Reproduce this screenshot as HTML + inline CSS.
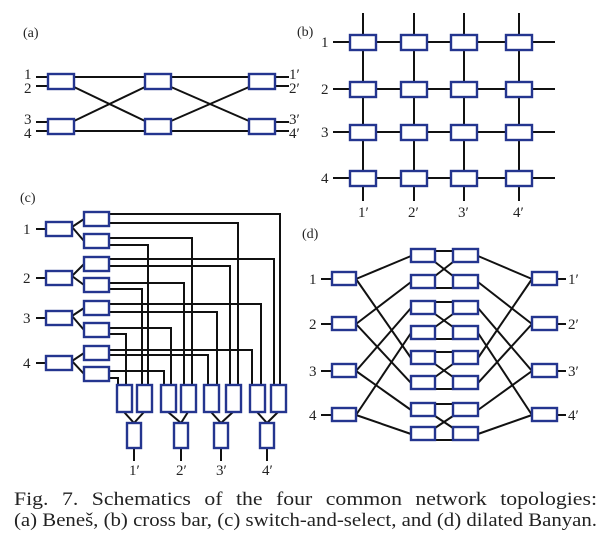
<!DOCTYPE html>
<html><head><meta charset="utf-8"><style>
html,body{margin:0;padding:0;background:#fff;}
svg{display:block;}
text{font-family:"Liberation Serif",serif;fill:#222;}
.b{fill:#fff;stroke:#24358f;stroke-width:2.4;}
.l{stroke:#111;stroke-width:2;fill:none;}
</style></head><body>
<svg width="616" height="541" viewBox="0 0 616 541" xmlns="http://www.w3.org/2000/svg">
<!-- (a) -->
<text x="23" y="37" font-size="14">(a)</text>
<g class="l">
<line x1="36" y1="77" x2="289" y2="77"/><line x1="36" y1="86" x2="48" y2="86"/><line x1="275" y1="86" x2="289" y2="86"/>
<line x1="36" y1="122" x2="48" y2="122"/><line x1="36" y1="131" x2="289" y2="131"/><line x1="275" y1="122" x2="289" y2="122"/>
<line x1="74" y1="87" x2="145" y2="121"/><line x1="74" y1="121" x2="145" y2="87"/>
<line x1="171" y1="87" x2="249" y2="121"/><line x1="171" y1="121" x2="249" y2="87"/>
</g>
<g class="b">
<rect x="48" y="74" width="26" height="15"/><rect x="145" y="74" width="26" height="15"/><rect x="249" y="74" width="26" height="15"/>
<rect x="48" y="119" width="26" height="15"/><rect x="145" y="119" width="26" height="15"/><rect x="249" y="119" width="26" height="15"/>
</g>
<g font-size="15">
<text x="24" y="79">1</text><text x="24" y="93">2</text><text x="24" y="124">3</text><text x="24" y="138">4</text>
<text x="289" y="79">1′</text><text x="289" y="93">2′</text><text x="289" y="124">3′</text><text x="289" y="138">4′</text>
</g>
<!-- (b) -->
<text x="297" y="36" font-size="14">(b)</text>
<g class="l">
<line x1="363" y1="13" x2="363" y2="201"/><line x1="414" y1="13" x2="414" y2="201"/><line x1="464" y1="13" x2="464" y2="201"/><line x1="519" y1="13" x2="519" y2="201"/>
<line x1="333" y1="42" x2="555" y2="42"/><line x1="333" y1="89" x2="555" y2="89"/><line x1="333" y1="132" x2="555" y2="132"/><line x1="333" y1="178" x2="555" y2="178"/>
</g>
<g class="b">
<rect x="350" y="35" width="26" height="15"/><rect x="401" y="35" width="26" height="15"/><rect x="451" y="35" width="26" height="15"/><rect x="506" y="35" width="26" height="15"/>
<rect x="350" y="82" width="26" height="15"/><rect x="401" y="82" width="26" height="15"/><rect x="451" y="82" width="26" height="15"/><rect x="506" y="82" width="26" height="15"/>
<rect x="350" y="125" width="26" height="15"/><rect x="401" y="125" width="26" height="15"/><rect x="451" y="125" width="26" height="15"/><rect x="506" y="125" width="26" height="15"/>
<rect x="350" y="171" width="26" height="15"/><rect x="401" y="171" width="26" height="15"/><rect x="451" y="171" width="26" height="15"/><rect x="506" y="171" width="26" height="15"/>
</g>
<g font-size="15">
<text x="321" y="47">1</text><text x="321" y="94">2</text><text x="321" y="137">3</text><text x="321" y="183">4</text>
<text x="358" y="217">1′</text><text x="408" y="217">2′</text><text x="458" y="217">3′</text><text x="513" y="217">4′</text>
</g>
<!-- (c) -->
<text x="20" y="202" font-size="14">(c)</text>
<g class="l">
<line x1="36" y1="229" x2="46" y2="229"/><line x1="36" y1="278" x2="46" y2="278"/><line x1="36" y1="318" x2="46" y2="318"/><line x1="36" y1="363" x2="46" y2="363"/>
<polyline points="84,219 72,227 84,241"/><polyline points="84,264 72,276 84,285"/><polyline points="84,308 72,316 84,330"/><polyline points="84,353 72,361 84,374"/>
<polyline points="109,214 280,214 280,385"/><polyline points="109,223 238,223 238,385"/>
<polyline points="109,238 192,238 192,385"/><polyline points="109,245 148,245 148,385"/>
<polyline points="109,259 274,259 274,385"/><polyline points="109,266 230,266 230,385"/>
<polyline points="109,283 184,283 184,385"/><polyline points="109,289 142,289 142,385"/>
<polyline points="109,304 261,304 261,385"/><polyline points="109,312 217,312 217,385"/>
<polyline points="109,328 171,328 171,385"/><polyline points="109,334 126,334 126,385"/>
<polyline points="109,350 252,350 252,385"/><polyline points="109,355 208,355 208,385"/>
<polyline points="109,371 164,371 164,385"/><polyline points="109,378 118,378 118,385"/>
<polyline points="124,412 134,423 144,412"/><polyline points="168,412 181,423 188,412"/><polyline points="211,412 221,423 233,412"/><polyline points="257,412 267,423 278,412"/>
<line x1="134" y1="448" x2="134" y2="461"/><line x1="181" y1="448" x2="181" y2="461"/><line x1="221" y1="448" x2="221" y2="461"/><line x1="267" y1="448" x2="267" y2="461"/>
</g>
<g class="b">
<rect x="46" y="222" width="26" height="14"/><rect x="46" y="271" width="26" height="14"/><rect x="46" y="311" width="26" height="14"/><rect x="46" y="356" width="26" height="14"/>
<rect x="84" y="212" width="25" height="14"/><rect x="84" y="234" width="25" height="14"/><rect x="84" y="257" width="25" height="14"/><rect x="84" y="278" width="25" height="14"/>
<rect x="84" y="301" width="25" height="14"/><rect x="84" y="323" width="25" height="14"/><rect x="84" y="346" width="25" height="14"/><rect x="84" y="367" width="25" height="14"/>
<rect x="117" y="385" width="15" height="27"/><rect x="137" y="385" width="15" height="27"/><rect x="161" y="385" width="15" height="27"/><rect x="181" y="385" width="15" height="27"/>
<rect x="204" y="385" width="15" height="27"/><rect x="226" y="385" width="15" height="27"/><rect x="250" y="385" width="15" height="27"/><rect x="271" y="385" width="15" height="27"/>
<rect x="127" y="423" width="14" height="25"/><rect x="174" y="423" width="14" height="25"/><rect x="214" y="423" width="14" height="25"/><rect x="260" y="423" width="14" height="25"/>
</g>
<g font-size="15">
<text x="23" y="234">1</text><text x="23" y="283">2</text><text x="23" y="323">3</text><text x="23" y="368">4</text>
<text x="129" y="475">1′</text><text x="176" y="475">2′</text><text x="216" y="475">3′</text><text x="262" y="475">4′</text>
</g>
<!-- (d) -->
<text x="302" y="238" font-size="14">(d)</text>
<g class="l">
<line x1="321" y1="279" x2="332" y2="279"/><line x1="321" y1="324" x2="332" y2="324"/><line x1="321" y1="371" x2="332" y2="371"/><line x1="321" y1="415" x2="332" y2="415"/>
<line x1="557" y1="279" x2="566" y2="279"/><line x1="557" y1="324" x2="566" y2="324"/><line x1="557" y1="371" x2="566" y2="371"/><line x1="557" y1="415" x2="566" y2="415"/>
<line x1="356" y1="279" x2="411" y2="256"/><line x1="356" y1="279" x2="411" y2="358"/>
<line x1="356" y1="324" x2="411" y2="282"/><line x1="356" y1="324" x2="411" y2="383"/>
<line x1="356" y1="371" x2="411" y2="308"/><line x1="356" y1="371" x2="411" y2="410"/>
<line x1="356" y1="415" x2="411" y2="333"/><line x1="356" y1="415" x2="411" y2="434"/>
<line x1="532" y1="279" x2="478" y2="256"/><line x1="532" y1="279" x2="478" y2="358"/>
<line x1="532" y1="324" x2="478" y2="282"/><line x1="532" y1="324" x2="478" y2="383"/>
<line x1="532" y1="371" x2="478" y2="308"/><line x1="532" y1="371" x2="478" y2="410"/>
<line x1="532" y1="415" x2="478" y2="333"/><line x1="532" y1="415" x2="478" y2="434"/>
<line x1="435" y1="251" x2="453" y2="251"/><line x1="435" y1="288" x2="453" y2="288"/><line x1="435" y1="262" x2="453" y2="276"/><line x1="435" y1="276" x2="453" y2="262"/>
<line x1="435" y1="302" x2="453" y2="302"/><line x1="435" y1="339" x2="453" y2="339"/><line x1="435" y1="314" x2="453" y2="327"/><line x1="435" y1="327" x2="453" y2="314"/>
<line x1="435" y1="352" x2="453" y2="352"/><line x1="435" y1="389" x2="453" y2="389"/><line x1="435" y1="364" x2="453" y2="377"/><line x1="435" y1="377" x2="453" y2="364"/>
<line x1="435" y1="404" x2="453" y2="404"/><line x1="435" y1="440" x2="453" y2="440"/><line x1="435" y1="416" x2="453" y2="428"/><line x1="435" y1="428" x2="453" y2="416"/>
</g>
<g class="b">
<rect x="332" y="272" width="24" height="13"/><rect x="332" y="317" width="24" height="13"/><rect x="332" y="364" width="24" height="13"/><rect x="332" y="408" width="24" height="13"/>
<rect x="532" y="272" width="25" height="13"/><rect x="532" y="317" width="25" height="13"/><rect x="532" y="364" width="25" height="13"/><rect x="532" y="408" width="25" height="13"/>
<rect x="411" y="249" width="24" height="13"/><rect x="411" y="275" width="24" height="13"/><rect x="411" y="301" width="24" height="13"/><rect x="411" y="326" width="24" height="13"/>
<rect x="411" y="351" width="24" height="13"/><rect x="411" y="376" width="24" height="13"/><rect x="411" y="403" width="24" height="13"/><rect x="411" y="427" width="24" height="13"/>
<rect x="453" y="249" width="25" height="13"/><rect x="453" y="275" width="25" height="13"/><rect x="453" y="301" width="25" height="13"/><rect x="453" y="326" width="25" height="13"/>
<rect x="453" y="351" width="25" height="13"/><rect x="453" y="376" width="25" height="13"/><rect x="453" y="403" width="25" height="13"/><rect x="453" y="427" width="25" height="13"/>
</g>
<g font-size="15">
<text x="309" y="284">1</text><text x="309" y="329">2</text><text x="309" y="376">3</text><text x="309" y="420">4</text>
<text x="568" y="284">1′</text><text x="568" y="329">2′</text><text x="568" y="376">3′</text><text x="568" y="420">4′</text>
</g>
<!-- caption -->
<text x="14" y="505" font-size="19" word-spacing="7" textLength="583" lengthAdjust="spacingAndGlyphs">Fig. 7. Schematics of the four common network topologies:</text>
<text x="14" y="526" font-size="19" textLength="583" lengthAdjust="spacingAndGlyphs">(a) Beneš, (b) cross bar, (c) switch-and-select, and (d) dilated Banyan.</text>
</svg>
</body></html>
